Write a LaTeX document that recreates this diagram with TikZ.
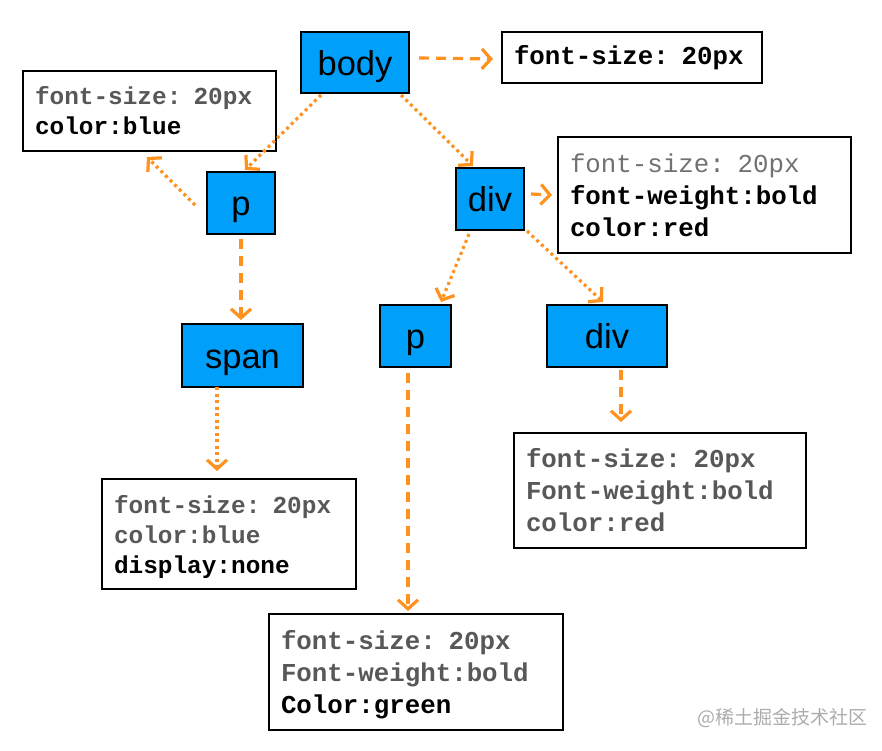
\documentclass[tikz,border=0pt]{standalone}
\usepackage{fontspec}
\setmainfont{Liberation Sans}
\setmonofont{Liberation Mono}
\newfontfamily\cjk{Noto Sans CJK SC}
\usetikzlibrary{arrows.meta,calc}
\definecolor{nodeblue}{RGB}{0,160,250}
\definecolor{arrorange}{RGB}{255,145,30}
\definecolor{inhgray}{RGB}{88,88,88}
\begin{document}
\begin{tikzpicture}[x=1pt,y=-1pt,
 elem/.style={draw=black, line width=2pt, fill=nodeblue, inner sep=0pt, text height=25pt, text depth=0pt, font=\fontsize{34.5}{34.5}\selectfont},
 css/.style={draw=black, line width=2pt, fill=white, anchor=north west, inner xsep=12pt, inner ysep=0pt, align=left},
 bigmono/.style={font=\ttfamily\bfseries\fontsize{25.8}{32}\selectfont},
 smallmono/.style={font=\ttfamily\bfseries\fontsize{24.4}{30}\selectfont},
 dotarrow/.style={arrorange, line width=3.2pt, dash pattern=on 3pt off 3.5pt, -{Straight Barb[length=9pt,width=20pt]}},
 dasharrow/.style={arrorange, line width=3.2pt, dash pattern=on 10pt off 7pt, -{Straight Barb[length=9pt,width=20pt]}},
]
\useasboundingbox (0,0) rectangle (882,750);

% element boxes
\node[elem, minimum width=108pt, minimum height=61pt] (body) at (355,62.5) {body};
\node[elem, minimum width=68pt, minimum height=62pt] (p) at (241,203) {p};
\node[elem, minimum width=68pt, minimum height=62pt] (div) at (490,199) {div};
\node[elem, minimum width=121pt, minimum height=63pt] (span) at (242.5,355.5) {span};
\node[elem, minimum width=71pt, minimum height=62pt] (p2) at (415.5,336) {p};
\node[elem, minimum width=120pt, minimum height=62pt] (div2) at (607,336) {div};

% style boxes
\node[css, bigmono, text width=236pt, minimum height=51pt] (fs0) at (501,31) {font-size: 20px};
\node[css, smallmono, text width=229pt, minimum height=80pt] (fsp) at (22,70)
 {\textcolor{inhgray}{font-size: 20px}\\color:blue};
\node[css, bigmono, text width=269pt, minimum height=116pt] (fsdiv) at (557,136)
 {\textcolor{inhgray!85}{\mdseries font-size: 20px}\\font-weight:bold\\color:red};
\node[css, smallmono, text width=230pt, minimum height=110pt] (fsspan) at (101,478)
 {\rule{0pt}{24pt}\textcolor{inhgray}{font-size: 20px}\\\textcolor{inhgray}{color:blue}\\display:none};
\node[css, bigmono, text width=268pt, minimum height=115pt, text=inhgray] (fsdiv2) at (513,432)
 {font-size: 20px\\Font-weight:bold\\color:red};
\node[css, bigmono, text width=270pt, minimum height=116pt] (fsp2) at (268,613)
 {\rule{0pt}{25pt}\textcolor{inhgray}{font-size: 20px}\\\textcolor{inhgray}{Font-weight:bold}\\Color:green};

% connectors
\draw[dasharrow] ($(body.east)+(9,-4.5)$) -- ($(fs0.west)+(-8,1.5)$);
\draw[dotarrow] ($(body.south west)+(21,1)$) -- ($(p.north)+(4,-1)$);
\draw[dotarrow] ($(p.west)+(-11,2)$) -- ($(fsp.south west)+(125,5)$);
\draw[dotarrow] ($(body.south east)+(-9,1)$) -- ($(div.north west)+(18,-1)$);
\draw[dasharrow] ($(div.east)+(6,-5)$) -- ($(fsdiv.west)+(-5,0)$);
\draw[dasharrow] ($(p.south)+(0,4)$) -- ($(span.north)+(-1.5,-3)$);
\draw[dotarrow] ($(div.south west)+(14,3)$) -- ($(p2.north east)+(-11,-2)$);
\draw[dotarrow] ($(div.south east)+(2,0)$) -- ($(div2.north)+(-4,-2)$);
\draw[dotarrow] ($(span.south)+(-25.5,-1)$) -- ($(fsspan.north west)+(116,-7)$);
\draw[dasharrow] ($(div2.south)+(14,2)$) -- ($(fsdiv2.north west)+(108,-10)$);
\draw[dasharrow] ($(p2.south)+(-7.5,5)$) -- ($(fsp2.north west)+(140,-2)$);

% watermark
\node[text=gray!65, font=\cjk\fontsize{19}{19}\selectfont] (wm) at (782,718) {@稀土掘金技术社区};
\end{tikzpicture}
\end{document}
